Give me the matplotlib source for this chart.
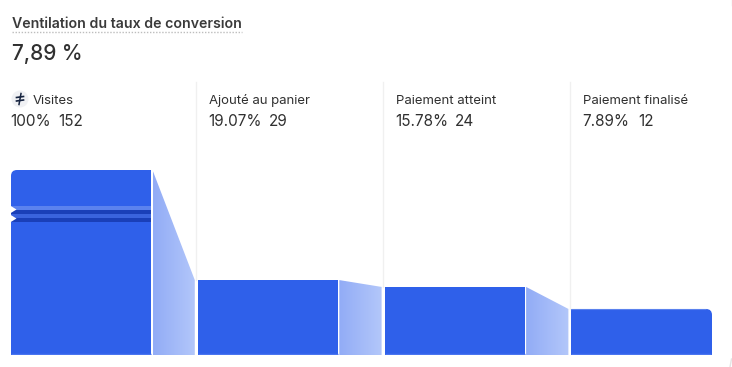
import numpy as np
import matplotlib
matplotlib.use("Agg")
import matplotlib.pyplot as plt
from matplotlib.patches import FancyBboxPatch, Circle, Polygon, Rectangle
from matplotlib.colors import LinearSegmentedColormap

plt.rcParams['font.family'] = ['Inter', 'DejaVu Sans']

title = "Ventilation du taux de conversion"
total_rate = "7,89 %"
steps = ["Visites", "Ajouté au panier", "Paiement atteint", "Paiement finalisé"]
rates = ["100%", "19.07%", "15.78%", "7.89%"]
counts = ["152", "29", "24", "12"]
# drawn height of each bar, in % of the first bar (the source does not scale them linearly)
bar_levels = [100, 40.5, 36.8, 24.9]

BLUE = "#2f60ea"
TEXT = "#303030"
W, H = 732, 367
STEP_PX = 186.8
BAR_PX = 140

fig = plt.figure(figsize=(W / 100, H / 100), dpi=100, facecolor="white")

# page layer in pixels, for text and decoration
page = fig.add_axes([0, 0, 1, 1], zorder=3)
page.set_xlim(0, W)
page.set_ylim(H, 0)
page.axis("off")

# funnel layer
ax = fig.add_axes([11 / W, (H - 355) / H, (W - 11) / W, 185 / H], zorder=2)
ax.set_xlim(0, (W - 11) / STEP_PX)
ax.set_ylim(0, 100)
ax.axis("off")

bar_w = BAR_PX / STEP_PX
gap = 1.5 / STEP_PX
cmap = LinearSegmentedColormap.from_list("conn", ["#92acf6", "#b3c7fa"])

for i, level in enumerate(bar_levels):
    bar = ax.bar(i, level, width=bar_w + (1 / STEP_PX if i == 3 else 0), align="edge", color=BLUE, linewidth=0)[0]
    ax.plot([i, i + bar_w], [0.4, 0.4], color="#4a75f0", lw=1, solid_capstyle="butt")
    if i == 0:
        clip = FancyBboxPatch((11 + 6, 170 + 6), 300, 300, boxstyle="round,pad=6,rounding_size=6",
                              transform=page.transData, fc="none", ec="none")
        page.add_patch(clip)
        bar.set_clip_path(clip)
    if i == len(bar_levels) - 1:
        clip = FancyBboxPatch((300, 309 + 6), 712 - 300 - 6, 300, boxstyle="round,pad=6,rounding_size=6",
                              transform=page.transData, fc="none", ec="none")
        page.add_patch(clip)
        bar.set_clip_path(clip)
        ax.plot([i, i + bar_w - 0.03], [level, level], color="#5b82ee", lw=0.8, solid_capstyle="butt")
    if i < len(bar_levels) - 1:
        x0, x1 = i + bar_w + gap, i + 1 - 3 / STEP_PX
        next_level = bar_levels[i + 1]
        poly = Polygon([(x0, 0), (x0, level), (x1, next_level), (x1, 0)], closed=True,
                       fc="none", ec="none", transform=ax.transData)
        ax.add_patch(poly)
        im = ax.imshow(np.linspace(0, 1, 64)[None, :], extent=[x0, x1, 0, level], cmap=cmap,
                       aspect="auto", zorder=1)
        im.set_clip_path(poly)

ax.set_xlim(0, (W - 11) / STEP_PX)
ax.set_ylim(0, 100)

# segmented stripes of the first bar
for top, bottom, colour in [(206, 210, "#5b82ee"), (210, 214, "#1a3fb8"),
                            (214, 218, "#3a63dd"), (218, 222, "#1a3fb8")]:
    page.add_patch(Rectangle((11, top), 140, bottom - top, fc=colour, ec="none"))
for y in (209.5, 218.5):
    page.add_patch(Polygon([(10, y - 4), (16.5, y), (10, y + 4)], closed=True, fc="white", ec="none"))

# dividers
for x in (196, 383, 570):
    page.plot([x, x], [82, 280 if x == 196 else 287 if x == 383 else 309], color="#f0f0f0", lw=1, zorder=0)

# header
page.text(12, 23.5, title, fontsize=10.2, fontweight="semibold", color="#3a3a3a", va="center", ha="left")
page.plot([12, 242], [32, 32], color="#bdbdbd", lw=1, ls=(0, (1, 1.2)))
page.text(12, 54.5, total_rate, fontsize=15, fontweight="medium", color=TEXT, va="center", ha="left")

# step labels
label_x = [33, 209, 396, 583]
value_x = [10.5, 208.5, 395.5, 582.5]
count_x = [58, 269, 455, 638]
for i, step in enumerate(steps):
    page.text(label_x[i], 100.5, step, fontsize=9.45, color=TEXT, va="center", ha="left")
    page.text(value_x[i], 121.5, rates[i], fontsize=11, color=TEXT, va="center", ha="left")
    page.text(count_x[i], 121.5, counts[i], fontsize=11, color=TEXT, va="center", ha="left")

# source icon
page.add_patch(Circle((20, 99), 8.5, fc="#f0f1f4", ec="none"))
page.plot([16.5, 23.5], [97.5, 96.5], color="#16233f", lw=1.2)
page.plot([16.5, 23.5], [101, 100], color="#16233f", lw=1.2)
page.plot([21, 19], [93.5, 104.5], color="#16233f", lw=1.1)

# card corners at the right edge
page.plot([731.5, 731.5], [0, 5], color="#e4e4e4", lw=1)
page.plot([731.5, 730], [359, 367], color="#e4e4e4", lw=1)

fig.savefig("out.png", dpi=100)
